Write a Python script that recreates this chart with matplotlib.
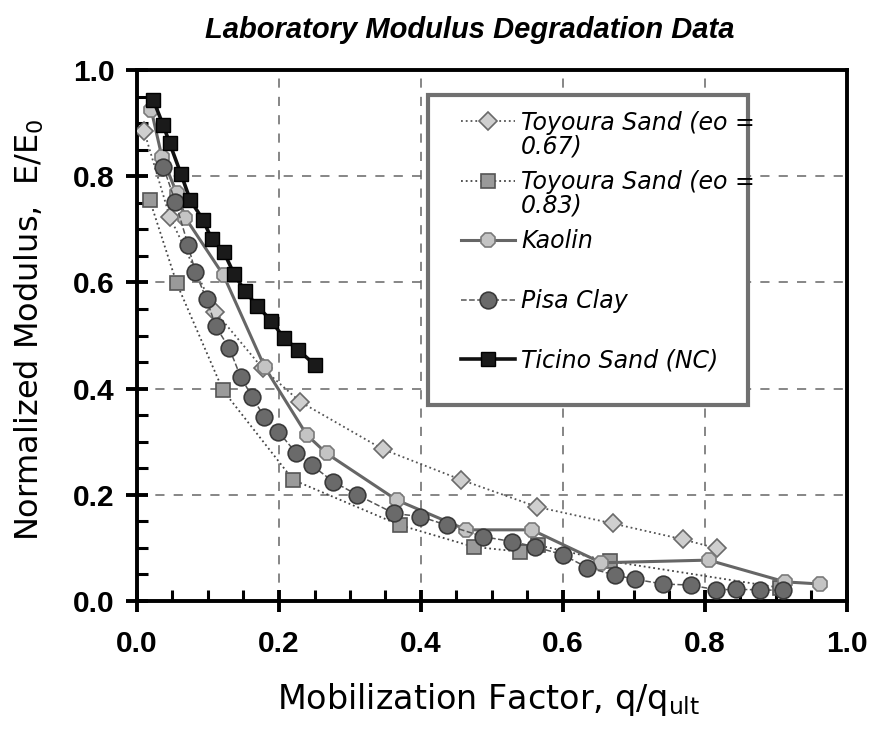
import matplotlib.pyplot as plt
from matplotlib.patches import Rectangle
from matplotlib.ticker import MultipleLocator

# Toyoura Sand (eo = 0.67)
toy67_x = [0.010, 0.046, 0.110, 0.177, 0.230, 0.346, 0.457, 0.564, 0.670, 0.769, 0.817]
toy67_y = [0.885, 0.724, 0.545, 0.438, 0.375, 0.286, 0.228, 0.177, 0.146, 0.116, 0.099]

# Toyoura Sand (eo = 0.83)
toy83_x = [0.018, 0.056, 0.121, 0.220, 0.370, 0.474, 0.539, 0.565, 0.666, 0.906]
toy83_y = [0.755, 0.598, 0.397, 0.228, 0.143, 0.102, 0.093, 0.105, 0.075, 0.025]

# Kaolin
kao_x = [0.020, 0.035, 0.056, 0.068, 0.122, 0.180, 0.239, 0.267, 0.366, 0.464,
         0.556, 0.654, 0.805, 0.913, 0.962]
kao_y = [0.925, 0.837, 0.768, 0.722, 0.613, 0.440, 0.313, 0.278, 0.190, 0.134,
         0.134, 0.072, 0.077, 0.036, 0.032]

# Pisa Clay
pisa_x = [0.037, 0.054, 0.072, 0.082, 0.098, 0.111, 0.130, 0.146, 0.162, 0.179,
          0.199, 0.224, 0.246, 0.276, 0.310, 0.362, 0.399, 0.436, 0.488, 0.528,
          0.561, 0.600, 0.634, 0.673, 0.701, 0.741, 0.780, 0.816, 0.844, 0.877, 0.910]
pisa_y = [0.818, 0.752, 0.670, 0.620, 0.568, 0.517, 0.476, 0.422, 0.385, 0.347,
          0.319, 0.279, 0.256, 0.225, 0.200, 0.165, 0.159, 0.143, 0.121, 0.112,
          0.102, 0.087, 0.063, 0.049, 0.041, 0.032, 0.030, 0.021, 0.022, 0.021, 0.020]

# Ticino Sand (NC)
tic_x = [0.023, 0.037, 0.046, 0.062, 0.075, 0.093, 0.105, 0.122, 0.137, 0.152,
         0.169, 0.189, 0.207, 0.227, 0.251]
tic_y = [0.943, 0.896, 0.862, 0.804, 0.755, 0.718, 0.682, 0.658, 0.615, 0.584,
         0.556, 0.528, 0.495, 0.473, 0.444]

labels = ['Toyoura Sand (eo =', 'Toyoura Sand (eo =', 'Kaolin', 'Pisa Clay', 'Ticino Sand (NC)']
label_tails = ['0.67)', '0.83)']

fig = plt.figure(figsize=(8.7, 7.36), dpi=100)
ax = fig.add_axes([137 / 870, 1 - 601 / 736, 710 / 870, 531 / 736])

ax.plot(toy67_x, toy67_y, ls=':', lw=1.3, color='#555555', marker='D', ms=9,
        mfc='#cfcfcf', mec='#6a6a6a', mew=1.2, label=labels[0], zorder=3)
ax.plot(toy83_x, toy83_y, ls=':', lw=1.3, color='#444444', marker='s', ms=10,
        mfc='#9a9a9a', mec='#555555', mew=1.2, label=labels[1], zorder=3)
ax.plot(kao_x, kao_y, ls='-', lw=2.2, color='#666666', marker='8', ms=11,
        mfc='#c4c4c4', mec='#7a7a7a', mew=1.2, label=labels[2], zorder=3)
ax.plot(pisa_x, pisa_y, ls='--', lw=1.1, color='#555555', marker='o', ms=12,
        mfc='#6a6a6a', mec='#3a3a3a', mew=1.2, label=labels[3], zorder=4)
ax.plot(tic_x, tic_y, ls='-', lw=2.6, color='#111111', marker='s', ms=10,
        mfc='#1a1a1a', mec='#000000', mew=1.0, label=labels[4], zorder=5)

ax.set_xlim(0, 1)
ax.set_ylim(0, 1)
ax.xaxis.set_major_locator(MultipleLocator(0.2))
ax.yaxis.set_major_locator(MultipleLocator(0.2))
ax.xaxis.set_minor_locator(MultipleLocator(0.05))
ax.yaxis.set_minor_locator(MultipleLocator(0.05))
ax.xaxis.set_major_formatter(plt.FormatStrFormatter('%.1f'))
ax.yaxis.set_major_formatter(plt.FormatStrFormatter('%.1f'))
ax.tick_params(which='major', direction='inout', length=16, width=2.8,
               labelsize=21.5)
ax.tick_params(which='minor', direction='in', length=8, width=2.2)
ax.tick_params(axis='x', which='major', pad=13)
ax.tick_params(axis='y', which='major', pad=8)
for lab in ax.get_xticklabels() + ax.get_yticklabels():
    lab.set_family('Liberation Sans')
    lab.set_fontweight('bold')
for s in ax.spines.values():
    s.set_linewidth(2.8)

ax.grid(True, which='major', ls=(0, (6, 6)), lw=1.1, color='#666666')
ax.set_axisbelow(True)

# legend box
box = Rectangle((0.41, 0.369), 0.451, 0.584, transform=ax.transAxes,
                facecolor='white', edgecolor='#707070', lw=3, zorder=6)
ax.add_patch(box)
leg = ax.legend(loc='upper left', bbox_to_anchor=(0.446, 0.937), borderaxespad=0,
                prop={'family': 'DejaVu Sans', 'style': 'italic', 'size': 17},
                handlelength=2.3, handletextpad=0.25, borderpad=0.3,
                labelspacing=1.5, frameon=False)
leg.set_zorder(7)
for i, tail in enumerate(label_tails):
    ax.annotate(tail, xy=(0, 0), xycoords=leg.get_texts()[i], xytext=(0, 0),
                textcoords='offset points', ha='left', va='top',
                family='DejaVu Sans', style='italic', fontsize=17, zorder=10)

fig.text(470 / 870, 1 - 30 / 736, 'Laboratory Modulus Degradation Data',
         ha='center', va='center', family=['Liberation Sans Narrow', 'Liberation Sans'],
         fontweight='bold', style='italic', fontsize=21)
fig.text(489 / 870, 1 - 700 / 736, 'Mobilization Factor, q/q$_{\\mathregular{ult}}$',
         ha='center', va='center', family='DejaVu Sans', fontsize=24)
fig.text(29 / 870, 1 - 330 / 736, 'Normalized Modulus,  E/E$_{\\mathregular{0}}$',
         ha='center', va='center', rotation=90, family='DejaVu Sans', fontsize=23)

fig.savefig('out.png', dpi=100)
